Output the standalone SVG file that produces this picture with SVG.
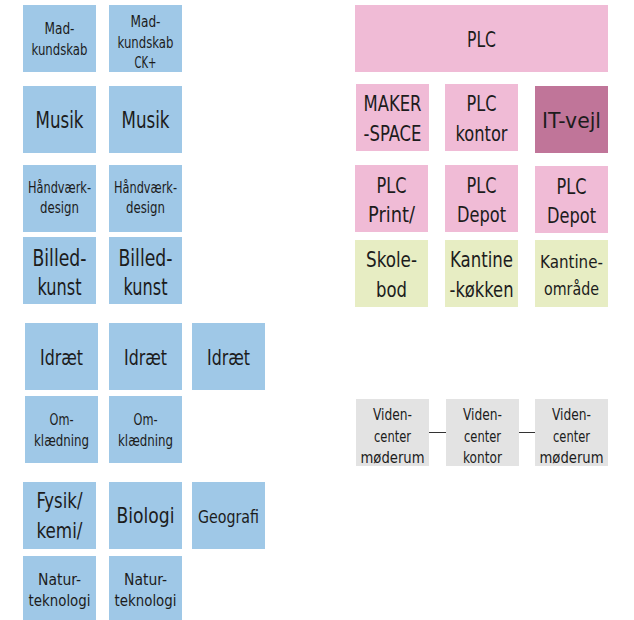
<svg xmlns="http://www.w3.org/2000/svg" width="634" height="620" viewBox="0 0 634 620">
<style>
text{font-family:"DejaVu Sans Condensed","Liberation Sans",sans-serif;fill:#1c1c1c;text-anchor:middle}
.b{fill:#9fc8e7}.p{fill:#f0bbd6}.d{fill:#c07599}.g{fill:#e7edc3}.v{fill:#e3e3e3}
.s{font-size:15.5px}.m{font-size:22px}.n{font-size:21px}.l{font-size:23px}.t{font-size:15.5px}.k{font-size:18px}
.c{stroke:#333;stroke-width:1}
</style>
<rect width="634" height="620" fill="#fff"/>
<g id="mad1"><rect class="b" x="23" y="5" width="73" height="67"/><text class="s" x="59.5" y="34" textLength="30" lengthAdjust="spacingAndGlyphs">Mad-</text><text class="s" x="59.5" y="55" textLength="56" lengthAdjust="spacingAndGlyphs">kundskab</text></g>
<g id="mad2"><rect class="b" x="109" y="5" width="73" height="67"/><text class="s" x="145.5" y="27" textLength="30" lengthAdjust="spacingAndGlyphs">Mad-</text><text class="s" x="145.5" y="48" textLength="56" lengthAdjust="spacingAndGlyphs">kundskab</text><text class="s" x="145.5" y="68" textLength="22" lengthAdjust="spacingAndGlyphs">CK+</text></g>
<g id="musik1"><rect class="b" x="23" y="86" width="73" height="67"/><text class="l" x="59.5" y="128" textLength="48" lengthAdjust="spacingAndGlyphs">Musik</text></g>
<g id="musik2"><rect class="b" x="109" y="86" width="73" height="67"/><text class="l" x="145.5" y="128" textLength="48" lengthAdjust="spacingAndGlyphs">Musik</text></g>
<g id="haand1"><rect class="b" x="23" y="165" width="73" height="67"/><text class="s" x="59.5" y="193" textLength="63" lengthAdjust="spacingAndGlyphs">Håndværk-</text><text class="s" x="59.5" y="213" textLength="39" lengthAdjust="spacingAndGlyphs">design</text></g>
<g id="haand2"><rect class="b" x="109" y="165" width="73" height="67"/><text class="s" x="145.5" y="193" textLength="63" lengthAdjust="spacingAndGlyphs">Håndværk-</text><text class="s" x="145.5" y="213" textLength="39" lengthAdjust="spacingAndGlyphs">design</text></g>
<g id="billed1"><rect class="b" x="23" y="237" width="73" height="67"/><text class="l" x="59.5" y="266" textLength="54" lengthAdjust="spacingAndGlyphs">Billed-</text><text class="l" x="59.5" y="295" textLength="44" lengthAdjust="spacingAndGlyphs">kunst</text></g>
<g id="billed2"><rect class="b" x="109" y="237" width="73" height="67"/><text class="l" x="145.5" y="266" textLength="54" lengthAdjust="spacingAndGlyphs">Billed-</text><text class="l" x="145.5" y="295" textLength="44" lengthAdjust="spacingAndGlyphs">kunst</text></g>
<g id="idraet1"><rect class="b" x="25" y="323" width="73" height="67"/><text class="m" x="61.5" y="365" textLength="43" lengthAdjust="spacingAndGlyphs">Idræt</text></g>
<g id="idraet2"><rect class="b" x="109" y="323" width="73" height="67"/><text class="m" x="145.5" y="365" textLength="43" lengthAdjust="spacingAndGlyphs">Idræt</text></g>
<g id="idraet3"><rect class="b" x="192" y="323" width="73" height="67"/><text class="m" x="228.5" y="365" textLength="43" lengthAdjust="spacingAndGlyphs">Idræt</text></g>
<g id="om1"><rect class="b" x="25" y="396" width="73" height="67"/><text class="s" x="61.5" y="425" textLength="24" lengthAdjust="spacingAndGlyphs">Om-</text><text class="s" x="61.5" y="446" textLength="55" lengthAdjust="spacingAndGlyphs">klædning</text></g>
<g id="om2"><rect class="b" x="109" y="396" width="73" height="67"/><text class="s" x="145.5" y="425" textLength="24" lengthAdjust="spacingAndGlyphs">Om-</text><text class="s" x="145.5" y="446" textLength="55" lengthAdjust="spacingAndGlyphs">klædning</text></g>
<g id="fysik"><rect class="b" x="23" y="482" width="73" height="67"/><text class="m" x="59.5" y="508" textLength="46" lengthAdjust="spacingAndGlyphs">Fysik/</text><text class="m" x="59.5" y="538" textLength="46" lengthAdjust="spacingAndGlyphs">kemi/</text></g>
<g id="biologi"><rect class="b" x="109" y="482" width="73" height="67"/><text class="m" x="145.5" y="523" textLength="58" lengthAdjust="spacingAndGlyphs">Biologi</text></g>
<g id="geografi"><rect class="b" x="192" y="482" width="73" height="67"/><text class="k" x="228.5" y="523" textLength="61" lengthAdjust="spacingAndGlyphs">Geografi</text></g>
<g id="natur1"><rect class="b" x="23" y="556" width="73" height="64"/><text class="s" x="59.5" y="585" textLength="43" lengthAdjust="spacingAndGlyphs">Natur-</text><text class="s" x="59.5" y="606" textLength="62" lengthAdjust="spacingAndGlyphs">teknologi</text></g>
<g id="natur2"><rect class="b" x="109" y="556" width="73" height="64"/><text class="s" x="145.5" y="585" textLength="43" lengthAdjust="spacingAndGlyphs">Natur-</text><text class="s" x="145.5" y="606" textLength="62" lengthAdjust="spacingAndGlyphs">teknologi</text></g>
<g id="plc"><rect class="p" x="355" y="5" width="253" height="67"/><text class="n" x="481.5" y="47" textLength="29" lengthAdjust="spacingAndGlyphs">PLC</text></g>
<g id="maker"><rect class="p" x="356" y="84" width="73" height="67"/><text class="n" x="392.5" y="111" textLength="58" lengthAdjust="spacingAndGlyphs">MAKER</text><text class="n" x="392.5" y="141" textLength="58" lengthAdjust="spacingAndGlyphs">-SPACE</text></g>
<g id="plckontor"><rect class="p" x="445" y="84" width="73" height="67"/><text class="n" x="481.5" y="111" textLength="30" lengthAdjust="spacingAndGlyphs">PLC</text><text class="n" x="481.5" y="141" textLength="52" lengthAdjust="spacingAndGlyphs">kontor</text></g>
<g id="itvejl"><rect class="d" x="535" y="86" width="73" height="67"/><text class="n" x="571.5" y="128" textLength="59" lengthAdjust="spacingAndGlyphs">IT-vejl</text></g>
<g id="plcprint"><rect class="p" x="355" y="165" width="73" height="67"/><text class="n" x="391.5" y="193" textLength="30" lengthAdjust="spacingAndGlyphs">PLC</text><text class="n" x="391.5" y="222" textLength="47" lengthAdjust="spacingAndGlyphs">Print/</text></g>
<g id="plcdepot1"><rect class="p" x="445" y="165" width="73" height="67"/><text class="n" x="481.5" y="193" textLength="30" lengthAdjust="spacingAndGlyphs">PLC</text><text class="n" x="481.5" y="222" textLength="49" lengthAdjust="spacingAndGlyphs">Depot</text></g>
<g id="plcdepot2"><rect class="p" x="535" y="166" width="73" height="67"/><text class="n" x="571.5" y="194" textLength="30" lengthAdjust="spacingAndGlyphs">PLC</text><text class="n" x="571.5" y="223" textLength="49" lengthAdjust="spacingAndGlyphs">Depot</text></g>
<g id="skolebod"><rect class="g" x="355" y="240" width="73" height="67"/><text class="n" x="391.5" y="267" textLength="51" lengthAdjust="spacingAndGlyphs">Skole-</text><text class="n" x="391.5" y="297" textLength="31" lengthAdjust="spacingAndGlyphs">bod</text></g>
<g id="kantinekoekken"><rect class="g" x="445" y="240" width="73" height="67"/><text class="n" x="481.5" y="267" textLength="63" lengthAdjust="spacingAndGlyphs">Kantine</text><text class="n" x="481.5" y="297" textLength="64" lengthAdjust="spacingAndGlyphs">-køkken</text></g>
<g id="kantineomraade"><rect class="g" x="535" y="240" width="73" height="67"/><text class="k" x="571.5" y="268" textLength="63" lengthAdjust="spacingAndGlyphs">Kantine-</text><text class="k" x="571.5" y="295" textLength="55" lengthAdjust="spacingAndGlyphs">område</text></g>
<g id="viden1"><rect class="v" x="356" y="399" width="73" height="67"/><text class="t" x="392.5" y="420" textLength="39" lengthAdjust="spacingAndGlyphs">Viden-</text><text class="t" x="392.5" y="442" textLength="37" lengthAdjust="spacingAndGlyphs">center</text><text class="t" x="392.5" y="463" textLength="64" lengthAdjust="spacingAndGlyphs">møderum</text></g>
<g id="viden2"><rect class="v" x="446" y="399" width="73" height="67"/><text class="t" x="482.5" y="420" textLength="39" lengthAdjust="spacingAndGlyphs">Viden-</text><text class="t" x="482.5" y="442" textLength="37" lengthAdjust="spacingAndGlyphs">center</text><text class="t" x="482.5" y="463" textLength="39" lengthAdjust="spacingAndGlyphs">kontor</text></g>
<g id="viden3"><rect class="v" x="535" y="399" width="73" height="67"/><text class="t" x="571.5" y="420" textLength="39" lengthAdjust="spacingAndGlyphs">Viden-</text><text class="t" x="571.5" y="442" textLength="37" lengthAdjust="spacingAndGlyphs">center</text><text class="t" x="571.5" y="463" textLength="64" lengthAdjust="spacingAndGlyphs">møderum</text></g>
<g id="connectors"><line class="c" x1="429" y1="432.5" x2="446" y2="432.5"/><line class="c" x1="519" y1="432.5" x2="535" y2="432.5"/></g>
</svg>
